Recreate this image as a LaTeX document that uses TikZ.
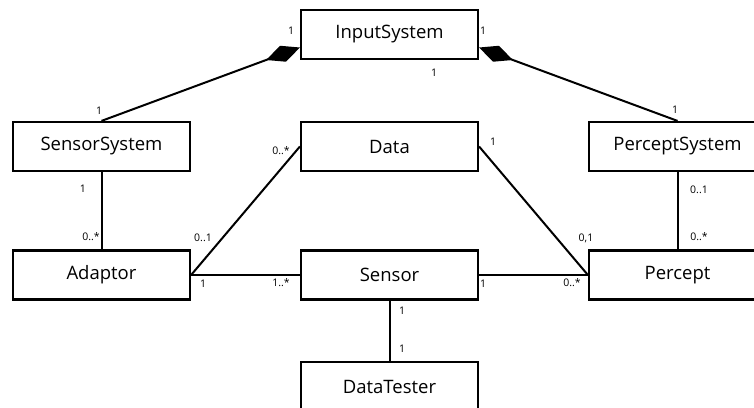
\documentclass[tikz,border=0pt]{standalone}
\usepackage{fontspec}
\setmainfont{Open Sans}
\usetikzlibrary{arrows.meta,calc}

\begin{document}
\begin{tikzpicture}[x=1pt,y=-1pt,
  cls/.style={draw,line width=2.2pt,minimum width=177pt,minimum height=49pt,
    inner sep=0pt,font=\fontsize{18.5}{20}\selectfont},
  assoc/.style={line width=2pt},
  comp/.style={line width=2pt,{Diamond[length=36pt,width=17pt]}-},
  mult/.style={inner sep=0pt,font=\fontsize{10.5}{12}\selectfont}]
\useasboundingbox (0,0) rectangle (754,407);
\begin{scope}
\clip (0,0) rectangle (754,407);

% classes
\node[cls] (in)  at (389.5,34.5)  {InputSystem};
\node[cls] (ss)  at (101.5,146.5) {SensorSystem};
\node[cls] (da)  at (389.5,146.5) {Data};
\node[cls] (ps)  at (677.5,146.5) {PerceptSystem};
\node[cls] (ad)  at (101.5,275)   {Adaptor};
\node[cls] (se)  at (389.5,275)   {Sensor};
\node[cls] (pe)  at (677.5,275)   {Percept};
\node[cls] (dt)  at (389.5,386.5) {DataTester};

% composition ends on InputSystem
\coordinate (inL) at ($(in.west)+(0,13)$);
\coordinate (inR) at ($(in.east)+(0,13)$);
\draw[comp] (inL) -- (ss.north);
\draw[comp] (inR) -- (ps.north);

% associations
\draw[assoc] (ss.south) -- (ad.north);
\draw[assoc] (ps.south) -- (pe.north);
\draw[assoc] (da.west) -- (ad.east);
\draw[assoc] (da.east) -- (pe.west);
\draw[assoc] (ad.east) -- (se.west);
\draw[assoc] (se.east) -- (pe.west);
\draw[assoc] (se.south) -- (dt.north);
\end{scope}

% multiplicities
\node[mult] (m1)  at (291,31)  {1};
\node[mult] (m2)  at (483,31)  {1};
\node[mult] (m3)  at (434,73)  {1};
\node[mult] (m4)  at (99,111)  {1};
\node[mult] (m5)  at (675,110) {1};
\node[mult] (m6)  at (83,189)  {1};
\node[mult] (m7)  at (91,237)  {0..*};
\node[mult] (m8)  at (281,151) {0..*};
\node[mult] (m9)  at (203,238) {0..1};
\node[mult] (m10) at (203,284) {1};
\node[mult] (m11) at (281,283) {1..*};
\node[mult] (m12) at (493,142) {1};
\node[mult] (m13) at (586,238) {0,1};
\node[mult] (m14) at (483,284) {1};
\node[mult] (m15) at (572,283) {0..*};
\node[mult] (m16) at (699,190) {0..1};
\node[mult] (m17) at (699,237) {0..*};
\node[mult] (m18) at (402,311) {1};
\node[mult] (m19) at (402,349) {1};
\end{tikzpicture}
\end{document}
